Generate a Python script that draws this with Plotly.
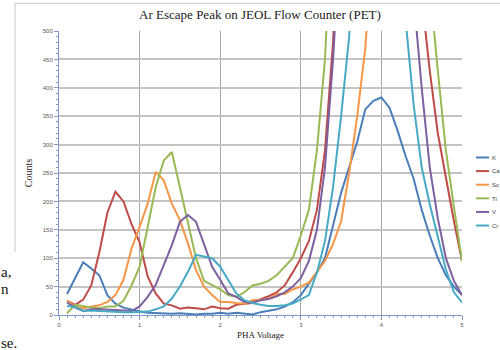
import plotly.graph_objects as go

voltage = [0.1, 0.2, 0.3, 0.4, 0.5, 0.6, 0.7, 0.8, 0.9, 1.0,
           1.1, 1.2, 1.3, 1.4, 1.5, 1.6, 1.7, 1.8, 1.9, 2.0,
           2.1, 2.2, 2.3, 2.4, 2.5, 2.6, 2.7, 2.8, 2.9, 3.0,
           3.1, 3.2, 3.3, 3.4, 3.5, 3.6, 3.7, 3.8, 3.9, 4.0,
           4.1, 4.2, 4.3, 4.4, 4.5, 4.6, 4.7, 4.8, 4.9, 5.0]

K = [37, 65, 93, 82, 70, 35, 20, 13, 9, 6,
     4, 3, 2, 2, 3, 2, 1, 2, 2, 4,
     2, 4, 3, 1, 5, 8, 10, 15, 22, 35,
     55, 75, 100, 160, 215, 260, 305, 362, 377, 383,
     365, 325, 280, 240, 185, 140, 100, 70, 50, 35]

Ca = [25, 18, 27, 52, 110, 180, 217, 200, 160, 128,
      68, 38, 20, 17, 11, 13, 12, 10, 15, 12,
      11, 18, 20, 21, 28, 33, 40, 52, 75, 100,
      130, 185, 290, 480, 800, 1200, 1600, 1900, 2100, 2200,
      2100, 1800, 1300, 850, 560, 430, 320, 240, 165, 95]

Sc = [25, 15, 12, 15, 17, 23, 35, 62, 117, 155,
      196, 252, 237, 196, 167, 126, 79, 50, 35, 23,
      23, 21, 20, 26, 27, 28, 37, 37, 45, 50,
      57, 75, 95, 125, 165, 250, 350, 470, 700, 1000,
      1300, 1600, 1800, 1900, 1900, 1800, 1600, 1300, 1000, 800]

Ti = [3, 18, 16, 13, 12, 15, 15, 25, 52, 85,
      155, 225, 272, 287, 225, 165, 100, 60, 52, 45,
      35, 32, 40, 52, 55, 60, 70, 85, 100, 140,
      185, 290, 450, 750, 1100, 1500, 1900, 2200, 2400, 2500,
      2400, 2200, 1800, 1400, 1000, 580, 430, 290, 190, 95]

V = [22, 13, 7, 10, 10, 10, 9, 8, 7, 15,
     32, 53, 88, 123, 164, 176, 164, 123, 85, 62,
     38, 32, 23, 22, 26, 28, 33, 40, 50, 65,
     95, 150, 260, 450, 750, 1100, 1500, 1800, 1900, 1900,
     1700, 1300, 900, 560, 400, 260, 170, 100, 60, 35]

Cr = [16, 14, 7, 8, 7, 6, 6, 5, 5, 5,
      6, 10, 15, 29, 50, 76, 106, 103, 100, 85,
      62, 38, 26, 21, 18, 16, 16, 17, 20, 27,
      35, 75, 130, 225, 350, 490, 750, 1000, 1200, 1300,
      1100, 800, 520, 370, 260, 195, 135, 80, 40, 22]

series_names = ["K", "Ca", "Sc", "Ti", "V", "Cr"]
series_values = [K, Ca, Sc, Ti, V, Cr]
series_colors = ["#4A7EBB", "#BE4B48", "#F79646", "#98B954", "#7D60A0", "#46AAC5"]

y_ticks = [0, 50, 100, 150, 200, 250, 300, 350, 400, 450, 500]
x_ticks = [0, 1, 2, 3, 4, 5]

fig = go.Figure()
for name, vals, col in zip(series_names, series_values, series_colors):
    fig.add_trace(go.Scatter(x=voltage, y=vals, name=name, mode="lines",
                             line=dict(color=col, width=2)))

tick_font = dict(family="Liberation Sans, Arial, sans-serif", size=6, color="#595959")
axis_color = "#7F98C4"

fig.update_layout(
    width=500, height=350,
    paper_bgcolor="white", plot_bgcolor="white",
    margin=dict(l=59, r=38, t=31, b=35, autoexpand=False),
    title=dict(text="Ar Escape Peak on JEOL Flow Counter (PET)",
               x=0.52, xanchor="center", y=1 - 14 / 350, yanchor="middle",
               font=dict(family="Liberation Serif, Times New Roman, serif", size=13, color="#1a1a1a")),
    legend=dict(x=452 / 500, xref="container", xanchor="left",
                y=1 - 191 / 350, yref="container", yanchor="middle",
                font=dict(family="Liberation Sans, Arial, sans-serif", size=6, color="#404040"),
                itemwidth=30, tracegroupgap=0, bgcolor="rgba(0,0,0,0)"),
    xaxis=dict(range=[0, 5], tickvals=x_ticks, ticktext=[str(t) for t in x_ticks],
               showgrid=True, gridcolor="#A8A8A8", gridwidth=1,
               showline=True, linecolor=axis_color, linewidth=1,
               ticks="outside", ticklen=4, tickcolor=axis_color,
               minor=dict(dtick=0.1, ticks="outside", ticklen=2, tickcolor=axis_color, showgrid=False),
               tickfont=tick_font, zeroline=False,
               title=dict(text="PHA Voltage", standoff=4,
                          font=dict(family="Liberation Serif, Times New Roman, serif", size=9, color="#1a1a1a"))),
    yaxis=dict(range=[0, 500], tickvals=y_ticks, ticktext=[str(t) for t in y_ticks],
               showgrid=True, gridcolor="#C4C4C4", gridwidth=1.5,
               showline=True, linecolor=axis_color, linewidth=1,
               ticks="outside", ticklen=4, tickcolor=axis_color,
               minor=dict(dtick=10, ticks="outside", ticklen=2, tickcolor=axis_color, showgrid=False),
               tickfont=tick_font, zeroline=False,
               title=dict(text="Counts", standoff=8,
                          font=dict(family="Liberation Serif, Times New Roman, serif", size=10, color="#1a1a1a"))),
)

# chart-area border (partial, as in the embedded screenshot)
fig.add_shape(type="line", xref="paper", yref="paper",
              x0=(15 - 59) / 403, x1=(500 - 59) / 403,
              y0=(315 - 3) / 284.3, y1=(315 - 3) / 284.3,
              line=dict(color="#C8C8C8", width=1))
fig.add_shape(type="line", xref="paper", yref="paper",
              x0=(15 - 59) / 403, x1=(15 - 59) / 403,
              y0=(315 - 3) / 284.3, y1=(315 - 252) / 284.3,
              line=dict(color="#C8C8C8", width=1))

# fragments of surrounding document text
doc_font = dict(family="Liberation Serif, Times New Roman, serif", size=15, color="#111111")
for txt, ypx in [("a,", 272), ("n", 289), ("se.", 343)]:
    fig.add_annotation(text=txt, xref="paper", yref="paper",
                       x=(-1 - 59) / 403, xanchor="left",
                       y=(315 - ypx) / 284.3, yanchor="middle",
                       showarrow=False, font=doc_font)

post = (
    "document.body.style.margin='0';"
    "document.body.style.overflow='hidden';"
    "document.querySelectorAll('.legendlines path').forEach(function(p){p.setAttribute('d','M24,0h13');});"
    "(function(){var ts=document.querySelectorAll('.legend .traces');var y0=null;"
    "ts.forEach(function(t){var m=/translate\\(([-\\d.]+),\\s*([-\\d.]+)\\)/.exec(t.getAttribute('transform')||'');"
    "if(!m)return;var x=parseFloat(m[1]),y=parseFloat(m[2]);if(y0===null)y0=y;"
    "t.setAttribute('transform','translate('+x+','+(y0+14+(y-y0)*0.716)+')');});})();"
)
fig.write_html("out.html", config={"displayModeBar": False}, post_script=post)
